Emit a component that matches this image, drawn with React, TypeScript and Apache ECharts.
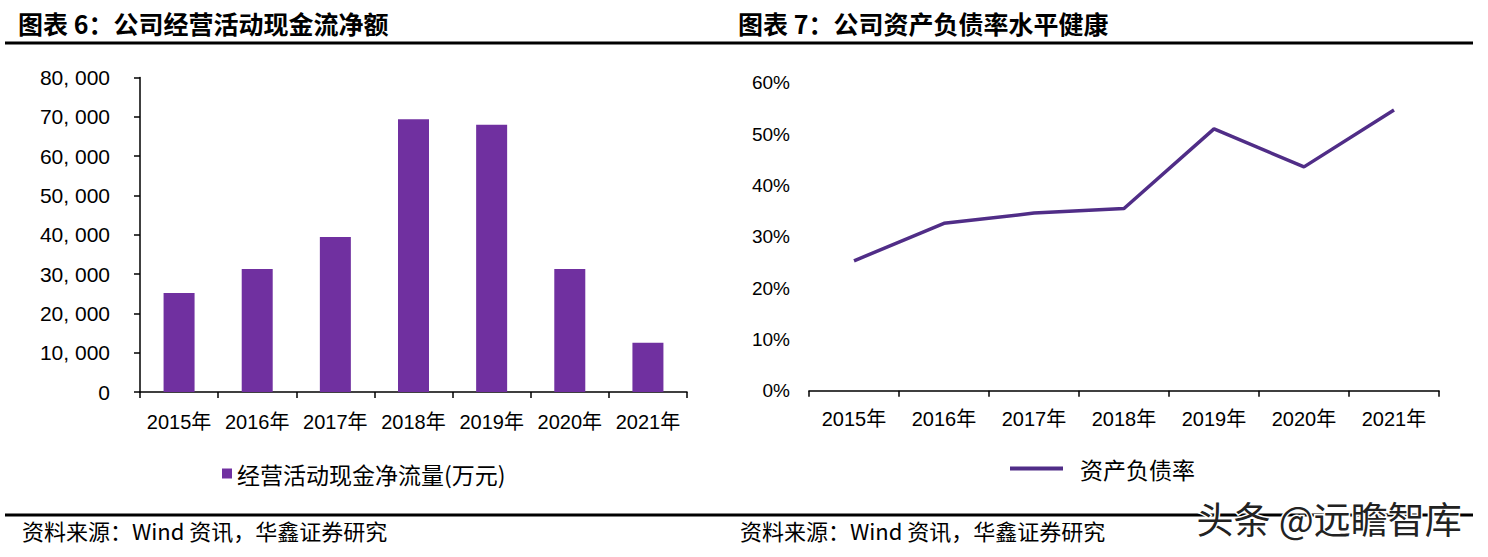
import React, { useEffect, useRef } from "react";
import * as echarts from "echarts";

const categories = ["2015年", "2016年", "2017年", "2018年", "2019年", "2020年", "2021年"];
const cashFlow = [25200, 31300, 39400, 69400, 68000, 31300, 12500];
const debtRatio = [25.3, 32.6, 34.6, 35.5, 51.0, 43.6, 54.7];
const cashSeriesName = "经营活动现金净流量(万元)";
const ratioSeriesName = "资产负债率";
const title1 = "图表 6：公司经营活动现金流净额";
const title2 = "图表 7：公司资产负债率水平健康";
const sourceText = "资料来源：Wind 资讯，华鑫证券研究";
const watermark = "头条 @远瞻智库";

const LATIN = "'Liberation Sans', Arial, 'Noto Sans CJK SC', sans-serif";
const CJK = "'Noto Sans CJK SC', sans-serif";

export default function App() {
  const ref = useRef<HTMLDivElement>(null);
  useEffect(() => {
    if (!ref.current) return;
    const chart = echarts.init(ref.current, undefined, { renderer: "svg" });
    const axisLabelBase = { color: "#000", fontSize: 20, fontFamily: LATIN };
    chart.setOption({
      animation: false,
      backgroundColor: "#fff",
      grid: [
        { left: 140, top: 77.5, width: 547, height: 314.5, containLabel: false },
        { left: 809, top: 82.7, width: 630, height: 308, containLabel: false },
      ],
      xAxis: [
        {
          type: "category",
          gridIndex: 0,
          data: categories,
          boundaryGap: true,
          axisLine: { lineStyle: { color: "#000", width: 1.5 } },
          axisTick: { show: true, length: 6, lineStyle: { color: "#000", width: 1.5 } },
          axisLabel: { ...axisLabelBase, margin: 20, interval: 0 },
        },
        {
          type: "category",
          gridIndex: 1,
          data: categories,
          boundaryGap: true,
          axisLine: { lineStyle: { color: "#000", width: 1.5 } },
          axisTick: { show: true, length: 6, lineStyle: { color: "#000", width: 1.5 } },
          axisLabel: { ...axisLabelBase, margin: 18, interval: 0 },
        },
      ],
      yAxis: [
        {
          type: "value",
          gridIndex: 0,
          min: 0,
          max: 80000,
          interval: 10000,
          splitLine: { show: false },
          axisLine: { show: true, lineStyle: { color: "#000", width: 1.5 } },
          axisTick: { show: true, length: 6, lineStyle: { color: "#000", width: 1.5 } },
          axisLabel: {
            ...axisLabelBase,
            fontSize: 21,
            margin: 30,
            formatter: (v: number) => (v === 0 ? "0" : v.toLocaleString("en-US").replace(",", ", ")),
          },
        },
        {
          type: "value",
          gridIndex: 1,
          min: 0,
          max: 60,
          interval: 10,
          splitLine: { show: false },
          axisLine: { show: false },
          axisTick: { show: false },
          axisLabel: { ...axisLabelBase, fontSize: 19, margin: 19, formatter: "{value}%" },
        },
      ],
      legend: [
        {
          data: [cashSeriesName],
          left: 222,
          top: 462,
          padding: 0,
          icon: "rect",
          itemWidth: 10,
          itemHeight: 10,
          textStyle: { color: "#000", fontSize: 23, fontFamily: CJK },
        },
        {
          data: [{ name: ratioSeriesName, icon: "rect" }],
          left: 1010,
          top: 457,
          padding: 0,
          itemWidth: 53,
          itemHeight: 4,
          itemStyle: { color: "#502D87" },
          textStyle: { color: "#000", fontSize: 23, fontFamily: CJK, padding: [0, 0, 0, 12] },
        },
      ],
      series: [
        {
          name: cashSeriesName,
          type: "bar",
          xAxisIndex: 0,
          yAxisIndex: 0,
          data: cashFlow,
          barWidth: 31,
          itemStyle: { color: "#7030A0" },
        },
        {
          name: ratioSeriesName,
          type: "line",
          xAxisIndex: 1,
          yAxisIndex: 1,
          data: debtRatio,
          symbol: "none",
          lineStyle: { color: "#502D87", width: 3.5 },
          itemStyle: { color: "#502D87" },
        },
      ],
      graphic: [
        {
          type: "text",
          left: 18,
          top: 10,
          style: { text: title1, fill: "#000", font: `bold 25px ${CJK}` },
        },
        {
          type: "text",
          left: 738,
          top: 10,
          style: { text: title2, fill: "#000", font: `bold 25px ${CJK}` },
        },
        {
          type: "line",
          shape: { x1: 5, y1: 43, x2: 1473, y2: 43 },
          style: { stroke: "#000", lineWidth: 3 },
        },
        {
          type: "line",
          shape: { x1: 5, y1: 515, x2: 1473, y2: 515 },
          style: { stroke: "#000", lineWidth: 3 },
        },
        {
          type: "text",
          left: 22,
          top: 519,
          style: { text: sourceText, fill: "#000", font: `22px ${CJK}` },
        },
        {
          type: "text",
          left: 740,
          top: 519,
          style: { text: sourceText, fill: "#000", font: `22px ${CJK}` },
        },
        {
          type: "text",
          left: 1195,
          top: 498,
          z: 10,
          style: {
            text: watermark,
            fill: "#222",
            stroke: "#fff",
            lineWidth: 3,
            font: `37px ${CJK}`,
          },
        },
      ],
    });
    return () => chart.dispose();
  }, []);
  return (
    <div
      ref={ref}
      style={{ position: "fixed", left: 0, top: 0, width: 1488, height: 557, background: "#fff" }}
    />
  );
}
